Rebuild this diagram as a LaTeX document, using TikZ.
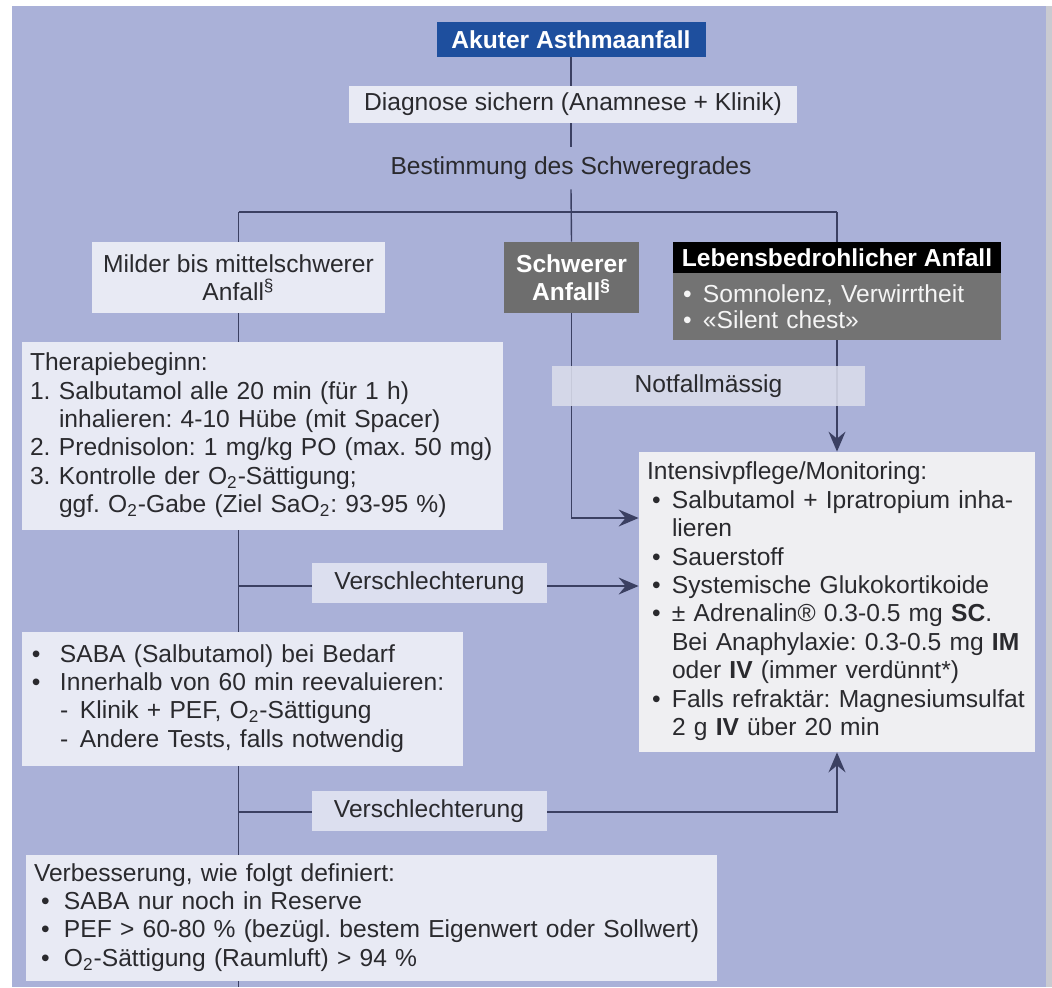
\documentclass[tikz,border=0pt]{standalone}
\usepackage{fontspec}
\setmainfont{Liberation Sans}
\usepackage{tikz}
\usetikzlibrary{arrows.meta}
\pgfdeclarelayer{backlayer}
\pgfdeclarelayer{edgelayer}
\pgfdeclarelayer{nodelayer}
\pgfsetlayers{backlayer,edgelayer,nodelayer,main}

\definecolor{bgblue}{HTML}{AAB1D8}
\definecolor{lightbox}{HTML}{E8EAF4}
\definecolor{notbox}{HTML}{DADDEB}
\definecolor{verbox}{HTML}{DCDFEF}
\definecolor{intbox}{HTML}{EFEFF2}
\definecolor{headblue}{HTML}{1E4F9E}
\definecolor{sevgray}{HTML}{6E6E6E}
\definecolor{bodygray}{HTML}{737373}
\definecolor{txt}{HTML}{2A2A2E}
\definecolor{edgecol}{HTML}{3B4062}

\newcommand{\rows}[1]{\begin{tabular}{@{}l@{}}#1\end{tabular}}
\newcommand{\bul}[2][0pt]{\makebox[#2][l]{\hspace{#1}\textbullet}}
\newcommand{\nr}[1]{\makebox[14.5pt][l]{#1}}
\newcommand{\ind}[1]{\hspace*{#1}}
\frenchspacing

\tikzset{
  every node/.style={font=\fontsize{12.3}{14.2}\selectfont, text=txt, inner sep=0pt},
  box/.style={fill=lightbox, align=center},
  textbox/.style={fill=lightbox, align=left, inner xsep=4pt},
  verbox/.style={fill=verbox, minimum width=117.5pt, minimum height=20pt},
  darkbox/.style={fill=sevgray, text=white, font=\fontsize{12.3}{14.2}\selectfont\bfseries, align=center},
  edgeline/.style={draw=edgecol, line width=0.7pt},
  arr/.style={edgeline, -{Stealth[length=10pt,width=8.5pt,inset=3.5pt]}}
}

\begin{document}
\begin{tikzpicture}[x=0.5pt,y=-0.5pt]
	\useasboundingbox (0,0) rectangle (1052,987);
	\begin{pgfonlayer}{backlayer}
		\fill [white] (0,0) rectangle (1052,987);
		\fill [bgblue] (12,6) rectangle (1046,987);
		\fill [lightbox!70!gray] (1046,6) rectangle (1052,987);
	\end{pgfonlayer}
	\begin{pgfonlayer}{nodelayer}
		\node [darkbox, fill=headblue, minimum width=134.5pt, minimum height=17.5pt] (0) at (571,39.5) {Akuter Asthmaanfall};
		\node [box, minimum width=224pt, minimum height=18.5pt] (1) at (573,104.5) {Diagnose sichern (Anamnese + Klinik)};
		\node [minimum height=21pt] (2) at (571,168) {Bestimmung des Schweregrades};
		\node [box, minimum width=146.5pt, minimum height=35.5pt] (3) at (238.5,277.5) {Milder bis mittelschwerer\\Anfall\textsuperscript{§}};
		\node [darkbox, minimum width=67.5pt, minimum height=35.5pt] (4) at (571.5,277.5) {Schwerer\\Anfall\textsuperscript{§}};
		\node [darkbox, fill=black, minimum width=164pt, minimum height=15.5pt] (5) at (837,257.5) {Lebensbedrohlicher Anfall};
		\node [fill=bodygray, text=white!92!gray, align=left, inner xsep=5pt, text width=154pt, minimum height=33.5pt, font=\fontsize{12.3}{13}\selectfont] (6) at (837,306.5)
			{\bul{10pt}Somnolenz, Verwirrtheit\\\bul{10pt}«Silent chest»};
		\node [textbox, text width=232.5pt, minimum height=94pt] (7) at (262.5,436) {\rows{
			Therapiebeginn:\\
			\nr{1.}Salbutamol alle 20 min (für 1 h)\\
			\ind{14.5pt}inhalieren: 4-10 Hübe (mit Spacer)\\
			\nr{2.}Prednisolon: 1 mg/kg PO (max. 50 mg)\\
			\nr{3.}Kontrolle der O\textsubscript{2}-Sättigung;\\
			\ind{14.5pt}ggf. O\textsubscript{2}-Gabe (Ziel SaO\textsubscript{2}: 93-95 \%)}};
		\node [fill=notbox, fill opacity=0.88, text opacity=1, minimum width=156.5pt, minimum height=20pt] (8) at (708.5,386) {Notfallmässig};
		\node [textbox, fill=intbox, text width=190pt, minimum height=150pt] (9) at (837,602) {\rows{
			Intensivpflege/Monitoring:\\
			\bul[2.5pt]{12.5pt}Salbutamol + Ipratropium inha-\\
			\ind{12.5pt}lieren\\
			\bul[2.5pt]{12.5pt}Sauerstoff\\
			\bul[2.5pt]{12.5pt}Systemische Glukokortikoide\\
			\bul[2.5pt]{12.5pt}± Adrenalin® 0.3-0.5 mg \textbf{SC}.\\
			\ind{12.5pt}Bei Anaphylaxie: 0.3-0.5 mg \textbf{IM}\\
			\ind{12.5pt}oder \textbf{IV} (immer verdünnt*)\\
			\bul[2.5pt]{12.5pt}Falls refraktär: Magnesiumsulfat\\
			\ind{12.5pt}2 g \textbf{IV} über 20 min}};
		\node [verbox] (10) at (429.5,583) {Verschlechterung};
		\node [textbox, text width=212.5pt, minimum height=67pt] (11) at (242.5,699) {\rows{
			\bul[1pt]{15pt}SABA (Salbutamol) bei Bedarf\\
			\bul[1pt]{15pt}Innerhalb von 60 min reevaluieren:\\
			\ind{15pt}\makebox[10pt][l]{-}Klinik + PEF, O\textsubscript{2}-Sättigung\\
			\ind{15pt}\makebox[10pt][l]{-}Andere Tests, falls notwendig}};
		\node [verbox] (12) at (429,811) {Verschlechterung};
		\node [textbox, text width=337.5pt, minimum height=63pt] (13) at (371.5,918) {\rows{
			Verbesserung, wie folgt definiert:\\
			\bul[3.5pt]{15pt}SABA nur noch in Reserve\\
			\bul[3.5pt]{15pt}PEF > 60-80 \% (bezügl. bestem Eigenwert oder Sollwert)\\
			\bul[3.5pt]{15pt}O\textsubscript{2}-Sättigung (Raumluft) > 94 \%}};
		\coordinate (14) at (238.5,212);
		\coordinate (15) at (837,212);
		\coordinate (16) at (571.5,518);
		\coordinate (17) at (837,812);
		\coordinate (18) at (238.5,987);
		\coordinate (19) at (238.5,586);
		\coordinate (20) at (238.5,812);
	\end{pgfonlayer}
	\begin{pgfonlayer}{edgelayer}
		\draw [edgeline] (0.south) to (0.south |- 1.north);
		\draw [edgeline] (0.south |- 1.south) to (2.north);
		\draw [edgeline] (2.south) to (4.north);
		\draw [edgeline] (14) to (15);
		\draw [edgeline] (14) to (3.north);
		\draw [edgeline] (15) to (5.north);
		\draw [edgeline] (3.south) to (3.south |- 7.north);
		\draw [arr] (4.south) to (16) to (9.west |- 16);
		\draw [arr] (6.south) to (9.north);
		\draw [edgeline] (3.south |- 7.south) to (3.south |- 11.north);
		\draw [arr] (19) to (9.west |- 19);
		\draw [edgeline] (3.south |- 11.south) to (3.south |- 13.north);
		\draw [arr] (20) to (17) to (9.south);
		\draw [edgeline] (3.south |- 13.south) to (18);
	\end{pgfonlayer}
\end{tikzpicture}
\end{document}
